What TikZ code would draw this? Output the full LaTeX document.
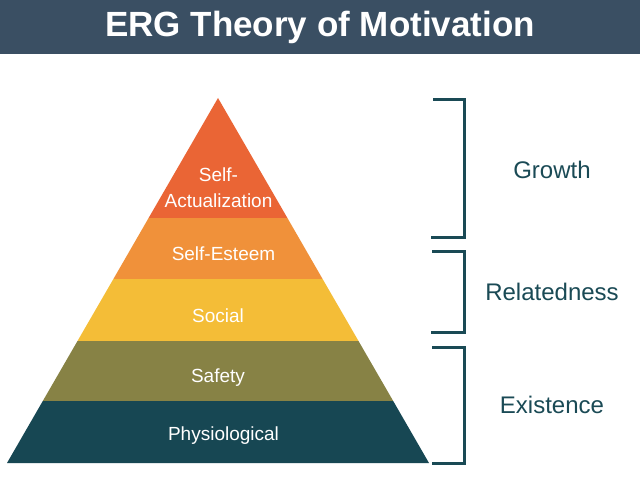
\documentclass[tikz,border=0pt]{standalone}
\usepackage{fontspec}
\setmainfont{Liberation Sans}
\definecolor{titlebg}{HTML}{3A4F63}
\definecolor{cSA}{HTML}{EA6535}
\definecolor{cSE}{HTML}{F0913A}
\definecolor{cSO}{HTML}{F4BD37}
\definecolor{cSF}{HTML}{878245}
\definecolor{cPH}{HTML}{174753}
\definecolor{ink}{HTML}{1A4A55}
\tikzset{
  layerlabel/.style={text=white,font=\fontsize{19}{26}\selectfont,align=center,inner sep=0pt},
  grouplabel/.style={text=ink,font=\fontsize{24}{26}\selectfont,inner sep=0pt},
  bracket/.style={draw=ink,line width=3pt,line cap=butt,line join=miter}
}
\begin{document}
\begin{tikzpicture}[x=1pt,y=-1pt]
\useasboundingbox (0,0) rectangle (640,500);
\fill[white] (0,0) rectangle (640,500);
% title bar
\fill[titlebg] (0,0) rectangle (640,54);
\node[text=white,font=\fontsize{35}{38}\selectfont\bfseries,inner sep=0pt] (title) at (320,27) {ERG Theory of Motivation};
% pyramid layers
\fill[cSA] (218,98) -- (287.4,218) -- (148.6,218) -- cycle;
\fill[cSE] (148.6,218) -- (287.4,218) -- (322.6,279) -- (113.4,279) -- cycle;
\fill[cSO] (113.4,279) -- (322.6,279) -- (358.5,341) -- (77.5,341) -- cycle;
\fill[cSF] (77.5,341) -- (358.5,341) -- (393.2,401) -- (42.8,401) -- cycle;
\fill[cPH] (42.8,401) -- (393.2,401) -- (429,463) -- (7,463) -- cycle;
% layer labels
\node[layerlabel] (sa) at (218.5,188) {Self-\\Actualization};
\node[layerlabel] (se) at (223.5,254) {Self-Esteem};
\node[layerlabel] (so) at (218,316) {Social};
\node[layerlabel] (sf) at (218,378) {Safety};
\node[layerlabel] (ph) at (223.5,436) {Physiological};
% brackets
\draw[bracket] (433,99.5) -- (464,99.5) -- (464,237.5) -- (431,237.5);
\draw[bracket] (432,251) -- (464,251) -- (464,332) -- (431,332);
\draw[bracket] (432,347) -- (464,347) -- (464,463) -- (432,463);
% group labels
\node[grouplabel] (g) at (552,170) {Growth};
\node[grouplabel] (r) at (552,292) {Relatedness};
\node[grouplabel] (e) at (552,405) {Existence};
\end{tikzpicture}
\end{document}
